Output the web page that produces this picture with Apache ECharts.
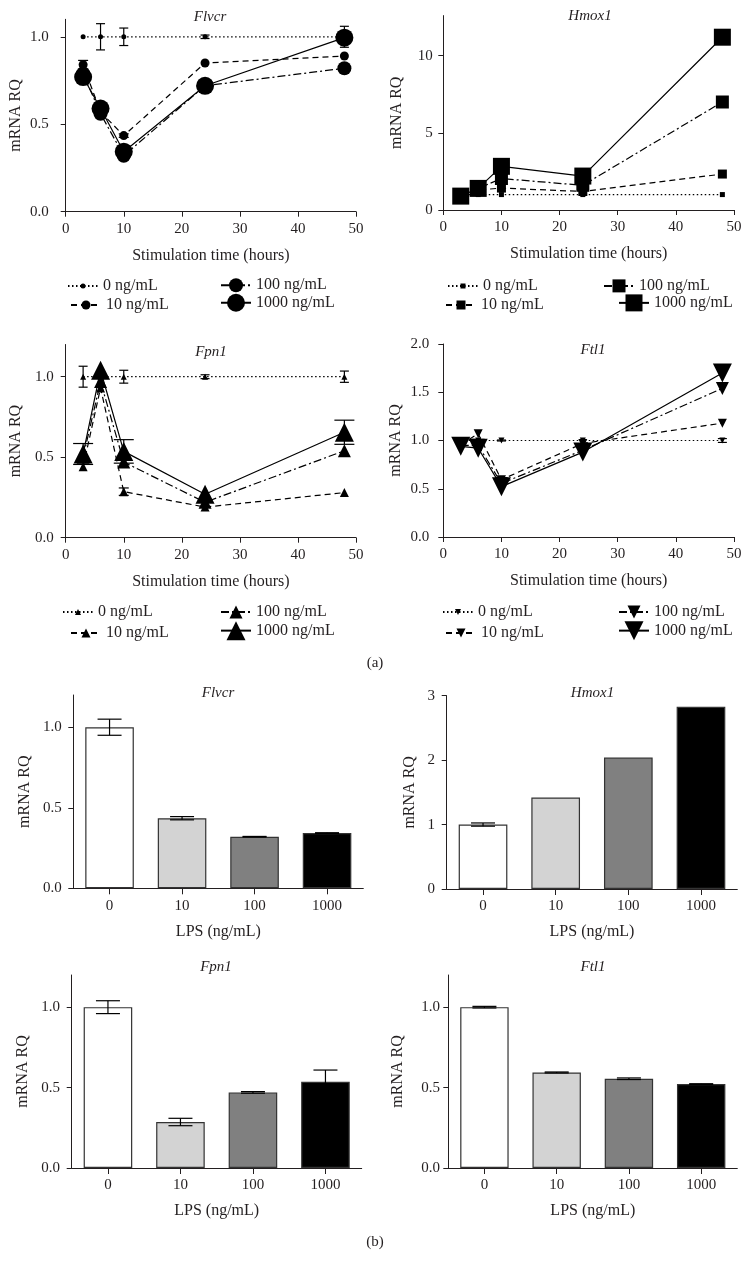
<!DOCTYPE html>
<html><head><meta charset="utf-8">
<script src="https://cdn.jsdelivr.net/npm/echarts@6/dist/echarts.min.js"></script>
<style>html,body{margin:0;padding:0;background:#fff}#c{width:753px;height:1261px}</style>
</head><body><div id="c"></div>
<script>
// ---------- data ----------
const hours = [3, 6, 10, 24, 48];
const doseNames = ['0 ng/mL', '10 ng/mL', '100 ng/mL', '1000 ng/mL'];
const lpsLabels = ['0', '10', '100', '1000'];

// (a) time courses
const flvcrT0 = [1.00, 1.00, 1.00, 1.00, 1.00];
const flvcrT10 = [0.84, 0.57, 0.435, 0.85, 0.89];
const flvcrT100 = [0.79, 0.56, 0.32, 0.72, 0.82];
const flvcrT1000 = [0.77, 0.59, 0.343, 0.72, 0.995];
const flvcrTErr0 = [0, 0.075, 0.05, 0.01, 0.06];
const flvcrTErr10 = [0.025, 0, 0.01, 0, 0];

const hmoxT0 = [1.0, 1.0, 1.0, 1.0, 1.0];
const hmoxT10 = [1.0, 1.3, 1.42, 1.2, 2.33];
const hmoxT100 = [1.0, 1.4, 2.04, 1.6, 7.0];
const hmoxT1000 = [0.9, 1.4, 2.83, 2.2, 11.2];

const fpnT0 = [1.0, 1.0, 1.0, 1.0, 1.0];
const fpnT10 = [0.44, 0.93, 0.286, 0.19, 0.28];
const fpnT100 = [0.50, 0.97, 0.47, 0.22, 0.54];
const fpnT1000 = [0.52, 1.04, 0.536, 0.27, 0.655];
const fpnTErr0 = [0.065, 0, 0.04, 0.012, 0.035];
const fpnTErr10 = [0, 0, 0.023, 0, 0];
const fpnTErr1000 = [0.065, 0, 0.073, 0, 0.075];

const ftlT0 = [1.0, 1.0, 1.0, 1.0, 1.0];
const ftlT10 = [0.96, 1.07, 0.594, 0.97, 1.18];
const ftlT100 = [0.95, 0.95, 0.555, 0.90, 1.54];
const ftlT1000 = [0.94, 0.92, 0.522, 0.88, 1.70];
const ftlTErr0 = [0, 0, 0.005, 0, 0.02];

// (b) 10 h dose response
const flvcrLps = [1.0, 0.435, 0.32, 0.343];
const flvcrLpsErr = [0.05, 0.01, 0.002, 0.002];
const hmoxLps = [1.0, 1.42, 2.04, 2.83];
const hmoxLpsErr = [0.025, 0, 0, 0];
const fpnLps = [1.0, 0.286, 0.47, 0.536];
const fpnLpsErr = [0.04, 0.023, 0.005, 0.073];
const ftlLps = [1.0, 0.594, 0.555, 0.522];
const ftlLpsErr = [0.005, 0.003, 0.005, 0.002];

// ---------- styling ----------
const FONT = '"Liberation Serif","DejaVu Serif",serif';
const INK = '#231f20';
const dashes = [[1.5, 2.5], [6, 4], [8, 3, 2, 3], 'solid'];
const barColors = ['#ffffff', '#d3d3d3', '#808080', '#000000'];
const capHalf = [4.5, 5, 7, 10];
const downTri = 'path://M0,0L10,0L5,9Z';

const grids = [], xAxes = [], yAxes = [], series = [], titles = [], legends = [];

function errSeries(i, data, cap, z) {
  return {
    type: 'custom', xAxisIndex: i, yAxisIndex: i, data: data, z: z, silent: true,
    encode: { x: 0, y: [1, 2] },
    renderItem: function (params, api) {
      const x = api.value(0);
      const lo = api.coord([x, api.value(1)]);
      const hi = api.coord([x, api.value(2)]);
      const st = { stroke: '#000', lineWidth: 1.2 };
      return { type: 'group', children: [
        { type: 'line', shape: { x1: lo[0], y1: lo[1], x2: hi[0], y2: hi[1] }, style: st },
        { type: 'line', shape: { x1: lo[0] - cap, y1: lo[1], x2: lo[0] + cap, y2: lo[1] }, style: st },
        { type: 'line', shape: { x1: hi[0] - cap, y1: hi[1], x2: hi[0] + cap, y2: hi[1] }, style: st }
      ] };
    }
  };
}

function yAxisCfg(i, p) {
  return {
    gridIndex: i, type: 'value', min: 0, max: p.yMax,
    name: 'mRNA RQ', nameLocation: 'middle', nameGap: p.nameGap,
    nameTextStyle: { color: INK, fontFamily: FONT, fontSize: 16 },
    axisLine: { show: true, onZero: false, lineStyle: { color: INK, width: 1 } },
    axisTick: { show: true, inside: false, length: 5, customValues: p.yTicks, lineStyle: { color: INK, width: 1 } },
    axisLabel: { customValues: p.yTicks, formatter: p.fmt, margin: p.lm, color: INK, fontFamily: FONT, fontSize: 15 },
    splitLine: { show: false }
  };
}

function addTitle(text, x, y) {
  titles.push({ text: text, left: x, top: y - 7.5, textAlign: 'center', padding: 0,
    textStyle: { fontFamily: FONT, fontStyle: 'italic', fontWeight: 'normal', fontSize: 15, color: INK } });
}

function timePanel(p) {
  const i = grids.length;
  grids.push({ left: p.grid[0], top: p.grid[1], width: p.grid[2], height: p.grid[3], containLabel: false, outerBoundsMode: 'none' });
  xAxes.push({
    gridIndex: i, type: 'value', min: 0, max: 50, interval: 10,
    name: 'Stimulation time (hours)', nameLocation: 'middle', nameGap: 36,
    nameTextStyle: { color: INK, fontFamily: FONT, fontSize: 16 },
    axisLine: { show: true, onZero: false, lineStyle: { color: INK, width: 1 } },
    axisTick: { show: true, inside: false, length: 5, lineStyle: { color: INK, width: 1 } },
    axisLabel: { margin: 10, color: INK, fontFamily: FONT, fontSize: 15 },
    splitLine: { show: false }
  });
  yAxes.push(yAxisCfg(i, p));
  addTitle(p.title, p.tx, p.ty);
  for (let k = 0; k < 4; k++) {
    const name = p.title + '#' + doseNames[k];
    const vals = p.vals[k];
    series.push({
      type: 'line', name: name, xAxisIndex: i, yAxisIndex: i,
      data: hours.map((h, j) => [h, vals[j]]),
      symbol: p.sym, symbolSize: p.sizes[k], showSymbol: true,
      lineStyle: { color: '#000', width: 1.2, type: dashes[k] },
      itemStyle: { color: '#000' }, z: 3 + k, silent: true
    });
    if (p.errs[k]) {
      const ed = hours.map((h, j) => [h, vals[j] - p.errs[k][j], vals[j] + p.errs[k][j]]).filter(d => d[2] > d[1]);
      if (ed.length) series.push(errSeries(i, ed, capHalf[k], 2));
    }
    const ih = p.sizes[k] / 0.8;
    legends.push({
      data: [name], left: p.leg[k][0] - 35, top: p.leg[k][1] - Math.max(ih, 16) / 2,
      itemWidth: 30, itemHeight: ih, padding: 0, selectedMode: false,
      formatter: n => n.split('#')[1],
      textStyle: { color: INK, fontFamily: FONT, fontSize: 16 }
    });
  }
}

function barPanel(p) {
  const i = grids.length;
  grids.push({ left: p.grid[0], top: p.grid[1], width: p.grid[2], height: p.grid[3], containLabel: false, outerBoundsMode: 'none' });
  xAxes.push({
    gridIndex: i, type: 'category', data: lpsLabels, boundaryGap: true,
    name: 'LPS (ng/mL)', nameLocation: 'middle', nameGap: 35,
    nameTextStyle: { color: INK, fontFamily: FONT, fontSize: 16 },
    axisLine: { show: true, onZero: false, lineStyle: { color: INK, width: 1 } },
    axisTick: { show: true, inside: false, alignWithLabel: true, length: 6, lineStyle: { color: INK, width: 1 } },
    axisLabel: { margin: 10, color: INK, fontFamily: FONT, fontSize: 15 },
    splitLine: { show: false }
  });
  yAxes.push(yAxisCfg(i, p));
  addTitle(p.title, p.tx, p.ty);
  series.push({
    type: 'bar', xAxisIndex: i, yAxisIndex: i, barCategoryGap: '33%', z: 2, silent: true,
    data: p.vals.map((v, k) => ({ value: v, itemStyle: { color: barColors[k], borderColor: '#333', borderWidth: 1.2 } }))
  });
  const ed = p.vals.map((v, k) => [k, v - p.errs[k], v + p.errs[k]]).filter(d => d[2] > d[1]);
  series.push(errSeries(i, ed, 12, 4));
}

const f1 = v => v.toFixed(1);
const f0 = v => String(v);

timePanel({ title: 'Flvcr', tx: 210, ty: 16.7, grid: [65.7, 19.3, 290.3, 192.4], yMax: 1.1, yTicks: [0, 0.5, 1], fmt: f1, lm: 17, nameGap: 42,
  sym: 'circle', sizes: [5, 9, 14, 18],
  vals: [flvcrT0, flvcrT10, flvcrT100, flvcrT1000], errs: [flvcrTErr0, flvcrTErr10, null, null],
  leg: [[102, 286], [105, 305], [255, 286], [255, 305]] });
timePanel({ title: 'Hmox1', tx: 590, ty: 16, grid: [443.3, 15.6, 290.7, 194.4], yMax: 12.6, yTicks: [0, 5, 10], fmt: f0, lm: 10.5, nameGap: 39,
  sym: 'rect', sizes: [5, 9, 13, 17],
  vals: [hmoxT0, hmoxT10, hmoxT100, hmoxT1000], errs: [null, null, null, null],
  leg: [[482, 286], [480, 305], [638, 286], [653, 305]] });
timePanel({ title: 'Fpn1', tx: 211, ty: 351.7, grid: [65.7, 344.5, 290.3, 193.2], yMax: 1.2, yTicks: [0, 0.5, 1], fmt: f1, lm: 12, nameGap: 41.7,
  sym: 'triangle', sizes: [6, 9, 13, 19],
  vals: [fpnT0, fpnT10, fpnT100, fpnT1000], errs: [fpnTErr0, fpnTErr10, null, fpnTErr1000],
  leg: [[97, 612], [105, 633], [255, 612], [255, 633]] });
timePanel({ title: 'Ftl1', tx: 593, ty: 350, grid: [443.3, 344, 290.7, 193], yMax: 2.0, yTicks: [0, 0.5, 1, 1.5, 2], fmt: f1, lm: 14, nameGap: 39.3,
  sym: downTri, sizes: [6, 9, 13, 19],
  vals: [ftlT0, ftlT10, ftlT100, ftlT1000], errs: [ftlTErr0, null, null, null],
  leg: [[477, 612], [480, 633], [653, 612], [653, 633]] });

barPanel({ title: 'Flvcr', tx: 218, ty: 693.3, grid: [73.3, 695, 290, 193.3], yMax: 1.2, yTicks: [0, 0.5, 1], fmt: f1, lm: 11.5, nameGap: 41,
  vals: flvcrLps, errs: flvcrLpsErr });
barPanel({ title: 'Hmox1', tx: 592.5, ty: 693.3, grid: [446.7, 695.7, 290.6, 193.3], yMax: 3, yTicks: [0, 1, 2, 3], fmt: f0, lm: 11.7, nameGap: 29.4,
  vals: hmoxLps, errs: hmoxLpsErr });
barPanel({ title: 'Fpn1', tx: 216, ty: 967.3, grid: [71.7, 975, 290, 193], yMax: 1.2, yTicks: [0, 0.5, 1], fmt: f1, lm: 11.7, nameGap: 41,
  vals: fpnLps, errs: fpnLpsErr });
barPanel({ title: 'Ftl1', tx: 593, ty: 967.3, grid: [448.3, 975, 289, 193], yMax: 1.2, yTicks: [0, 0.5, 1], fmt: f1, lm: 8.3, nameGap: 42.6,
  vals: ftlLps, errs: ftlLpsErr });

const panelTag = { fontFamily: FONT, fontStyle: 'normal', fontWeight: 'normal', fontSize: 15, color: INK };
titles.push({ text: '(a)', left: 375, top: 656, textAlign: 'center', padding: 0, textStyle: panelTag });
titles.push({ text: '(b)', left: 375, top: 1235, textAlign: 'center', padding: 0, textStyle: panelTag });

const chart = echarts.init(document.getElementById('c'), null, { renderer: 'canvas' });
chart.setOption({
  animation: false,
  backgroundColor: '#ffffff',
  textStyle: { fontFamily: FONT },
  title: titles, grid: grids, xAxis: xAxes, yAxis: yAxes, legend: legends, series: series
});
</script></body></html>
